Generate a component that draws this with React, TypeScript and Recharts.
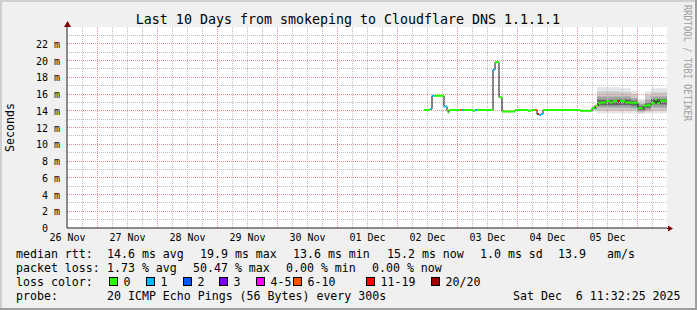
import React from 'react';
import { ComposedChart, Line, Area, XAxis, YAxis, ReferenceLine, CartesianGrid } from 'recharts';

// time axis: hours since 26 Nov 00:00
const timeDomain: [number, number] = [11.8, 251.8];
const dayLabels = ['26 Nov', '27 Nov', '28 Nov', '29 Nov', '30 Nov', '01 Dec', '02 Dec', '03 Dec', '04 Dec', '05 Dec'];
const dayLabelHours = [12, 36, 60, 84, 108, 132, 156, 180, 204, 228];
const midnightHours = [24, 48, 72, 96, 120, 144, 168, 192, 216, 240];
const yTicks = [0, 2, 4, 6, 8, 10, 12, 14, 16, 18, 20, 22];
const yMinor = [1, 3, 5, 7, 9, 11, 13, 15, 17, 19, 21, 23];

const lossLabels = ['0', '1', '2', '3', '4-5', '6-10', '11-19', '20/20'];
const lossColors = ['#26ff00', '#00b8ff', '#0059ff', '#7e00ff', '#ff00ff', '#ff5500', '#ff0000', '#a10000'];

// median rtt (ms) steps
const segStart = [154.6, 157.0, 157.8, 158.6, 162.6, 163.8, 164.2, 164.6, 169.0, 169.8, 170.6, 174.2, 175.0, 175.8, 182.2, 183.0, 184.6, 185.8, 191.0, 196.2, 197.4, 199.0, 199.8, 200.6, 201.4, 202.2, 217.0, 221.8, 223.0, 224.2, 225.4, 227.4, 229.0, 230.2, 231.8, 233.0, 235.0, 237.4, 240.2, 242.2, 243.8, 245.4, 247.0, 247.8, 249.0];
const segMedian = [14.1, 14.2, 15.8, 15.8, 14.5, 14.0, 13.8, 14.1, 14.1, 14.1, 14.1, 14.0, 14.1, 14.1, 18.9, 19.8, 15.6, 13.9, 14.1, 14.0, 14.1, 14.1, 13.6, 13.5, 13.6, 14.1, 14.0, 14.3, 14.6, 14.9, 15.0, 15.15, 15.0, 15.15, 15.2, 15.15, 15.0, 14.95, 14.3, 14.6, 14.65, 14.9, 15.3, 14.9, 15.2];
const segLoss = [0, 1, 1, 0, 1, 0, 0, 0, 5, 1, 0, 0, 1, 0, 1, 0, 0, 0, 0, 0, 0, 5, 6, 1, 1, 0, 0, 0, 0, 0, 0, 0, 0, 0, 6, 0, 0, 0, 0, 0, 0, 0, 0, 0, 0];
const seriesEnd = 251.8;

// smoke bands (ms)
const smokeTime = [221.8, 223.8, 233.0, 237.4, 240.2, 243.0, 245.4, 251.8];
const smokeOuter: [number, number][] = [[13.95, 14.6], [13.7, 16.8], [13.7, 16.7], [13.7, 16.4], [13.6, 15.4], [13.7, 16.3], [13.7, 16.7], [13.7, 16.7]];
const smokeMid: [number, number][] = [[14.1, 14.5], [14.0, 16.3], [14.0, 16.2], [14.0, 16.0], [13.8, 15.1], [13.9, 15.9], [14.0, 16.2], [14.0, 16.2]];
const smokeInner: [number, number][] = [[14.2, 14.4], [14.4, 15.7], [14.4, 15.7], [14.3, 15.5], [13.95, 14.8], [14.1, 15.3], [14.4, 15.7], [14.4, 15.7]];
const smokeCore: [number, number][] = [[14.25, 14.35], [14.65, 15.3], [14.7, 15.35], [14.6, 15.2], [14.05, 14.5], [14.35, 14.9], [14.75, 15.4], [14.75, 15.4]];

const statsRtt = [
  { x: 107, text: '14.6 ms avg' },
  { x: 200, text: '19.9 ms max' },
  { x: 293, text: '13.6 ms min' },
  { x: 387, text: '15.2 ms now' },
  { x: 480, text: '1.0 ms sd' },
  { x: 558, text: '13.9' },
  { x: 607, text: 'am/s' },
];
const statsLoss = [
  { x: 107, text: '1.73 % avg' },
  { x: 193, text: '50.47 % max' },
  { x: 286, text: '0.00 % min' },
  { x: 372, text: '0.00 % now' },
];
const lossSquareX = [109, 146, 183, 219, 256, 293, 366, 431];

const medianData = segStart.flatMap((t, i) => {
  const end = i + 1 < segStart.length ? segStart[i + 1] : seriesEnd;
  return [{ t, v: segMedian[i] }, { t: end, v: segMedian[i] }];
});
const lossData = lossColors.map((_, k) =>
  segStart.flatMap((t, i) => {
    if (segLoss[i] !== k) return [];
    const end = i + 1 < segStart.length ? segStart[i + 1] : seriesEnd;
    return [{ t, v: segMedian[i] }, { t: end, v: segMedian[i] }, { t: end, v: null }];
  })
);
const smokeData = smokeTime.map((t, i) => ({ t, outer: smokeOuter[i], mid: smokeMid[i], inner: smokeInner[i], core: smokeCore[i] }));

const minorX: number[] = [];
for (let h = 18; h < timeDomain[1]; h += 6) if (h % 24 !== 0) minorX.push(h);

const FONT = '"DejaVu Sans Mono", monospace';
const MINOR = '#bdbdbd';
const MAJOR = '#e88a8a';

const XTick = (props: any) => {
  const { x, y, index } = props;
  return (
    <text x={x} y={y + 13} textAnchor="middle" fontFamily={FONT} fontSize={10} fill="#000">
      {dayLabels[index]}
    </text>
  );
};
const YTick = (props: any) => {
  const { x, y, payload } = props;
  const v = payload.value;
  return (
    <text x={v === 0 ? x - 12 : x} y={y + 4} textAnchor="end" fontFamily={FONT} fontSize={10} fill="#000">
      {v === 0 ? '0' : `${v} m`}
    </text>
  );
};

export default function App() {
  const rowY = [258, 272.3, 285.8, 300];
  return (
    <div style={{ position: 'absolute', left: 0, top: 0, width: 697, height: 310, background: '#f0f0f0' }}>
      <ComposedChart width={697} height={310} margin={{ top: 27, right: 30, bottom: 62, left: 0 }}>
        <CartesianGrid horizontal={false} vertical={false} fill="#ffffff" />
        <XAxis
          type="number"
          dataKey="t"
          domain={timeDomain}
          ticks={dayLabelHours}
          interval={0}
          allowDataOverflow
          height={20}
          tickSize={0}
          tickMargin={0}
          tickLine={false}
          axisLine={{ stroke: '#1f1f1f' }}
          tick={<XTick />}
        />
        <YAxis
          type="number"
          domain={[0, 24]}
          ticks={yTicks}
          interval={0}
          allowDataOverflow
          width={67}
          tickSize={4}
          tickMargin={3}
          tickLine={false}
          axisLine={{ stroke: '#1f1f1f' }}
          tick={<YTick />}
        />
        <Area data={smokeData} dataKey="outer" type="stepAfter" fill="#e4e4e4" fillOpacity={1} stroke="none" isAnimationActive={false} />
        <Area data={smokeData} dataKey="mid" type="stepAfter" fill="#c9c9c9" fillOpacity={1} stroke="none" isAnimationActive={false} />
        <Area data={smokeData} dataKey="inner" type="stepAfter" fill="#a2a2a2" fillOpacity={1} stroke="none" isAnimationActive={false} />
        <Area data={smokeData} dataKey="core" type="stepAfter" fill="#666666" fillOpacity={1} stroke="none" isAnimationActive={false} />
        {minorX.map((h) => (
          <ReferenceLine key={'mx' + h} x={h} stroke={MINOR} strokeDasharray="1 1" shapeRendering="crispEdges" />
        ))}
        {yMinor.map((v) => (
          <ReferenceLine key={'my' + v} y={v} stroke={MINOR} strokeDasharray="1 1" shapeRendering="crispEdges" />
        ))}
        {midnightHours.map((h) => (
          <ReferenceLine key={'Mx' + h} x={h} stroke={MAJOR} strokeDasharray="1 1" shapeRendering="crispEdges" />
        ))}
        {yTicks.filter((v) => v > 0).map((v) => (
          <ReferenceLine key={'My' + v} y={v} stroke={MAJOR} strokeDasharray="1 1" shapeRendering="crispEdges" />
        ))}
        <Line data={medianData} dataKey="v" type="linear" stroke="#111" strokeWidth={1} dot={false} isAnimationActive={false} />
        {lossData.map((d, k) =>
          d.length ? (
            <Line key={'l' + k} data={d} dataKey="v" type="linear" stroke={lossColors[k]} strokeWidth={2} dot={false} connectNulls={false} isAnimationActive={false} />
          ) : null
        )}
      </ComposedChart>
      <svg width={697} height={310} style={{ position: 'absolute', left: 0, top: 0, pointerEvents: 'none' }}>
        <rect x={0} y={0} width={697} height={2} fill="#cfcfcf" />
        <rect x={0} y={0} width={2} height={310} fill="#cfcfcf" />
        <rect x={0} y={308} width={697} height={2} fill="#9e9e9e" />
        <rect x={695} y={0} width={2} height={310} fill="#9e9e9e" />
        <line x1={667} y1={228.5} x2={669} y2={228.5} stroke="#1f1f1f" />
        <polygon points="668,225.5 673,228.5 668,231.5" fill="#7f0000" />
        <polygon points="64,27 67.5,21 71,27" fill="#7f0000" />
        <text x={348} y={24} textAnchor="middle" fontFamily={FONT} fontSize={13.3} fill="#000">
          Last 10 Days from smokeping to Cloudflare DNS 1.1.1.1
        </text>
        <text transform="translate(14,127.5) rotate(-90)" textAnchor="middle" fontFamily={FONT} fontSize={11.6} fill="#000">
          Seconds
        </text>
        <text transform="translate(684,5) rotate(90)" fontFamily={FONT} fontSize={10} fill="#a0a0a0" textLength={116} lengthAdjust="spacingAndGlyphs">
          RRDTOOL / TOBI OETIKER
        </text>
        <g fontFamily={FONT} fontSize={11.6} fill="#000">
          <text x={16} y={rowY[0]}>median rtt:</text>
          {statsRtt.map((s) => (
            <text key={s.text} x={s.x} y={rowY[0]}>{s.text}</text>
          ))}
          <text x={16} y={rowY[1]}>packet loss:</text>
          {statsLoss.map((s) => (
            <text key={s.text} x={s.x} y={rowY[1]}>{s.text}</text>
          ))}
          <text x={16} y={rowY[2]}>loss color:</text>
          {lossLabels.map((l, k) => (
            <g key={l}>
              <rect x={lossSquareX[k] + 0.5} y={277.5} width={8} height={8} fill={lossColors[k]} stroke="#000" strokeWidth={1} />
              <text x={lossSquareX[k] + 14.5} y={rowY[2]}>{l}</text>
            </g>
          ))}
          <text x={16} y={rowY[3]}>probe:</text>
          <text x={107} y={rowY[3]}>20 ICMP Echo Pings (56 Bytes) every 300s</text>
          <text x={513} y={rowY[3]}>{'Sat Dec\u00a0\u00a06 11:32:25 2025'}</text>
        </g>
      </svg>
    </div>
  );
}
